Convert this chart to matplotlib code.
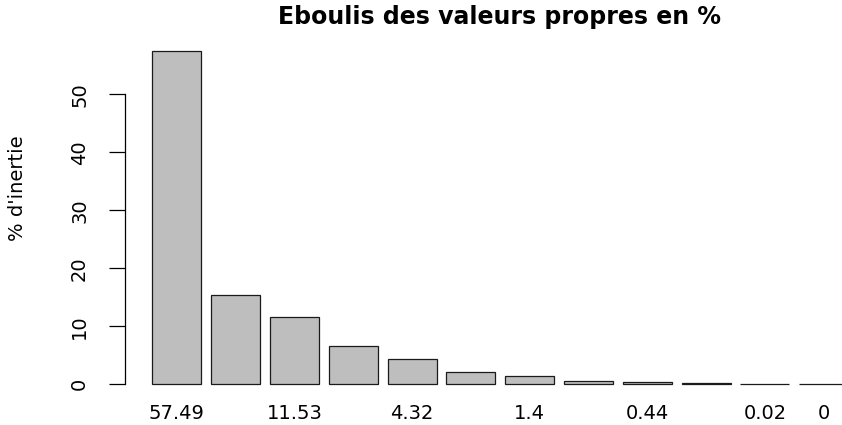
import matplotlib
matplotlib.use('Agg')
import matplotlib.pyplot as plt

# pourcentages d'inertie (valeurs propres)
values = [57.49, 15.38, 11.53, 6.56, 4.32, 2.11, 1.4, 0.62, 0.44, 0.13, 0.02, 0]
names = ['57.49', '15.38', '11.53', '6.56', '4.32', '2.11', '1.4', '0.62', '0.44', '0.13', '0.02', '0']
shown = [0, 2, 4, 6, 8, 10, 11]   # labels R keeps (others overlap)
yticks = [0, 10, 20, 30, 40, 50]

plt.rcParams['font.family'] = ['DejaVu Sans']

fig = plt.figure(figsize=(8.42, 4.25), dpi=100)
ax = fig.add_axes([0.1479, 0.0645, 0.8925, 0.8473])

# R barplot layout: width 1, space 0.2
x = [0.7 + 1.2 * i for i in range(len(values))]
ax.bar(x, values, width=1.0, color='#bebebe', edgecolor='#1a1a1a', linewidth=0.9)

ax.set_xlim(-0.368, 14.968)
ax.set_ylim(-2.3, 59.79)

for s in ['top', 'right', 'bottom']:
    ax.spines[s].set_visible(False)
ax.spines['left'].set_bounds(0, 50)
ax.spines['left'].set_linewidth(0.9)

ax.set_yticks(yticks)
ax.set_yticklabels([str(t) for t in yticks], rotation=90, va='center', fontsize=14)
ax.tick_params(axis='y', length=11.5, width=0.9, pad=14)

ax.set_xticks([x[i] for i in shown])
ax.set_xticklabels([names[i] for i in shown], fontsize=14)
ax.tick_params(axis='x', length=0, pad=4.5)

fig.text(500 / 842, 1 - 17 / 425, 'Eboulis des valeurs propres en %', ha='center', va='center',
         fontsize=17, fontweight='bold')
fig.text(18 / 842, 1 - 188 / 425, "% d'inertie", rotation=90, ha='center', va='center', fontsize=14)

fig.savefig('out.png', dpi=100)
